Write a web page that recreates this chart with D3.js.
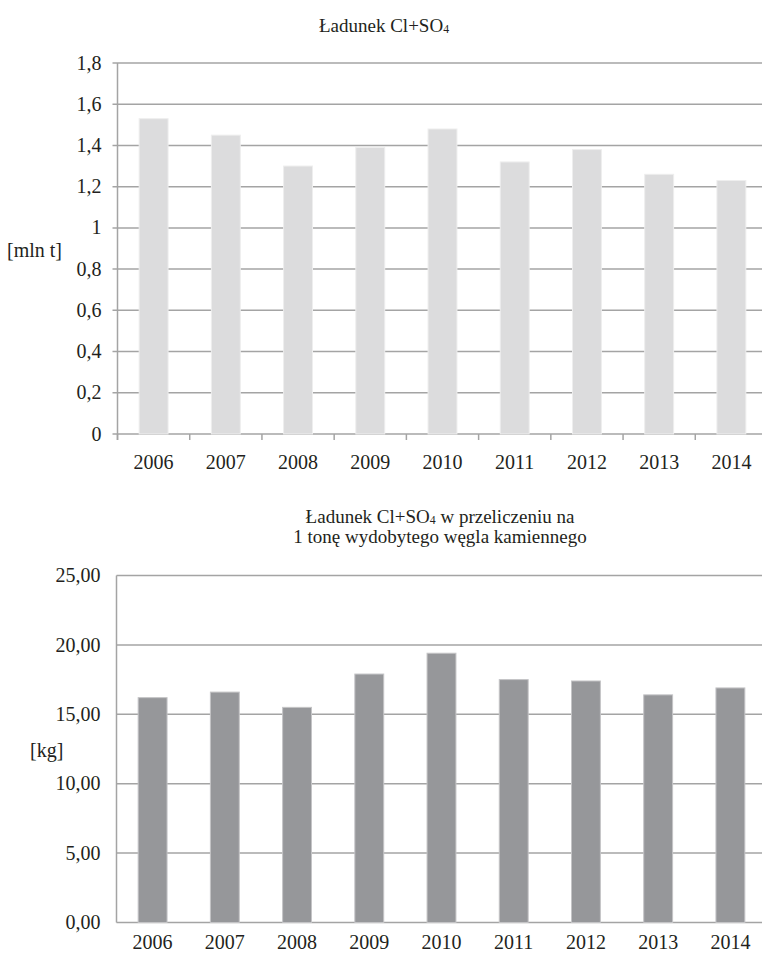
<!DOCTYPE html>
<html>
<head>
<meta charset="utf-8">
<script src="https://cdn.jsdelivr.net/npm/d3@7"></script>
<style>
  html, body { margin: 0; padding: 0; background: #fff; }
  svg { display: block; }
  text { font-family: "Liberation Serif", "Times New Roman", serif; fill: #231f20; }
</style>
</head>
<body>
<svg id="chart" width="762" height="957"></svg>
<script>
// Years shared by both panels
const years = ["2006", "2007", "2008", "2009", "2010", "2011", "2012", "2013", "2014"];
// Cl+SO4 load, million tonnes
const loadMlnT = [1.53, 1.45, 1.30, 1.39, 1.48, 1.32, 1.38, 1.26, 1.23];
// Cl+SO4 load per tonne of hard coal mined, kg
const loadKgPerT = [16.2, 16.6, 15.5, 17.9, 19.4, 17.5, 17.4, 16.4, 16.9];
// Value-axis ticks
const topTicks = [0, 0.2, 0.4, 0.6, 0.8, 1, 1.2, 1.4, 1.6, 1.8];
const bottomTicks = [0, 5, 10, 15, 20, 25];

const FONT = 20;
const GRID = "#a4a4a4";
const plLocale = d3.formatLocale({ decimal: ",", thousands: " ", grouping: [3], currency: ["", " zł"] });
const fmtTop = plLocale.format(".1~f");
const fmtBottom = plLocale.format(".2f");

const svg = d3.select("#chart");

function panel(opts) {
  const g = svg.append("g");
  const x = d3.scaleBand().domain(years).range([opts.x0, opts.x1]).paddingInner(0.6).paddingOuter(0.3);
  const y = d3.scaleLinear().domain(opts.domain).range([opts.y0, opts.y1]);

  // horizontal gridlines (with optional short outward ticks)
  g.append("g").selectAll("line").data(opts.ticks).join("line")
    .attr("x1", opts.x0 - opts.yTick).attr("x2", 762)
    .attr("y1", d => y(d)).attr("y2", d => y(d))
    .attr("stroke", GRID).attr("stroke-width", 1.5);

  // value axis line
  g.append("line")
    .attr("x1", opts.x0).attr("x2", opts.x0)
    .attr("y1", opts.y1).attr("y2", opts.y0 + (opts.xTick ? opts.xTick : 0))
    .attr("stroke", GRID).attr("stroke-width", 1.5);

  // value labels
  g.append("g").selectAll("text").data(opts.ticks).join("text")
    .attr("x", opts.x0 - opts.labelGap).attr("y", d => y(d)).attr("dy", "0.33em")
    .attr("text-anchor", "end").attr("font-size", FONT)
    .text(opts.fmt);

  // bars
  g.append("g").selectAll("rect").data(opts.values).join("rect")
    .attr("x", (d, i) => x(years[i])).attr("width", x.bandwidth())
    .attr("y", d => y(d)).attr("height", d => y(0) - y(d))
    .attr("fill", opts.fill).attr("stroke", opts.edge).attr("stroke-width", 1);

  // category ticks at band boundaries
  if (opts.xTick) {
    const step = x.step();
    g.append("g").selectAll("line").data(d3.range(years.length + 1)).join("line")
      .attr("x1", i => opts.x0 + i * step).attr("x2", i => opts.x0 + i * step)
      .attr("y1", opts.y0).attr("y2", opts.y0 + opts.xTick)
      .attr("stroke", GRID).attr("stroke-width", 1.5);
  }

  // category labels
  g.append("g").selectAll("text").data(years).join("text")
    .attr("x", d => x(d) + x.bandwidth() / 2).attr("y", opts.y0 + opts.catGap)
    .attr("text-anchor", "middle").attr("font-size", FONT)
    .text(d => d);

  // unit label
  g.append("text").attr("x", opts.unitX).attr("y", opts.unitY)
    .attr("font-size", FONT).text(opts.unit);
}

function title(lines, cx, y0, lh) {
  lines.forEach((ln, k) => {
    const t = svg.append("text").attr("x", cx).attr("y", y0 + k * lh)
      .attr("text-anchor", "middle").attr("font-size", FONT - 1);
    ln.forEach(part => {
      const s = t.append("tspan").text(part.t);
      if (part.sub) s.attr("font-size", (FONT - 1) * 0.62).attr("dy", 1);
      if (part.after) s.attr("dy", -1);
    });
  });
}

panel({
  x0: 117.5, x1: 767.5, y0: 434, y1: 63, domain: [0, 1.8], ticks: topTicks,
  yTick: 5, xTick: 6, labelGap: 16, catGap: 35, fmt: fmtTop,
  values: loadMlnT, fill: "#dcdcdd", edge: "#eeeeee",
  unit: "[mln t]", unitX: 7, unitY: 257
});

panel({
  x0: 116.5, x1: 766.5, y0: 922.5, y1: 575.5, domain: [0, 25], ticks: bottomTicks,
  yTick: 0, xTick: 0, labelGap: 16, catGap: 26, fmt: fmtBottom,
  values: loadKgPerT, fill: "#96979a", edge: "#c4c4c6",
  unit: "[kg]", unitX: 30, unitY: 757
});

title([[{ t: "Ładunek Cl+SO" }, { t: "4", sub: true }]], 384, 32, 20);
title([
  [{ t: "Ładunek Cl+SO" }, { t: "4", sub: true }, { t: " w przeliczeniu na", after: true }],
  [{ t: "1 tonę wydobytego węgla kamiennego" }]
], 440, 523, 20);
</script>
</body>
</html>
